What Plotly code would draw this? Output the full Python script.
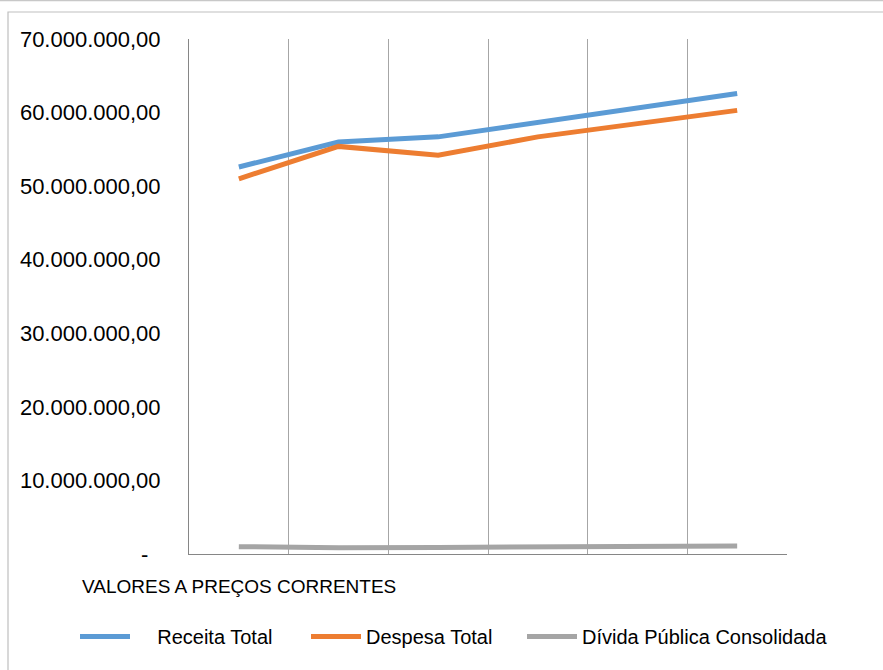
import plotly.graph_objects as go

# ---- data ----
categories = [1, 2, 3, 4, 5, 6]
receita_total = [52.6e6, 56.0e6, 56.7e6, 58.7e6, 60.7e6, 62.6e6]
despesa_total = [51.0e6, 55.4e6, 54.2e6, 56.7e6, 58.5e6, 60.3e6]
divida_publica = [1.0e6, 0.85e6, 0.9e6, 0.95e6, 1.0e6, 1.1e6]
y_tick_vals = [0, 10e6, 20e6, 30e6, 40e6, 50e6, 60e6, 70e6]
y_tick_text = ["-\u00a0\u00a0", "10.000.000,00", "20.000.000,00", "30.000.000,00",
               "40.000.000,00", "50.000.000,00", "60.000.000,00", "70.000.000,00"]
series_names = ["\u00a0\u00a0\u00a0\u00a0Receita Total", "Despesa Total", "Dívida Pública Consolidada"]
series_colors = ["#5B9BD5", "#ED7D31", "#A5A5A5"]
x_title = "VALORES A PREÇOS CORRENTES"

W, H = 883, 670
L, R, T, B = 189, 787, 39, 554

def px_x(p):
    return (p - L) / (R - L)

def px_y(p):
    return (B - p) / (B - T)

legend_ids = ["legend", "legend2", "legend3"]
legend_px = [75, 306, 522]

fig = go.Figure()
for name, vals, col, lid in zip(series_names, [receita_total, despesa_total, divida_publica],
                                series_colors, legend_ids):
    fig.add_trace(go.Scatter(x=categories, y=vals, mode="lines", name=name, legend=lid,
                             line=dict(color=col, width=5), hoverinfo="skip"))

grid_vals = [c - 0.5 for c in categories] + [categories[-1] + 0.5]

legend_common = dict(orientation="h", y=px_y(617), xanchor="left", yanchor="top",
                     font=dict(size=20, color="#000000"), itemwidth=50,
                     bgcolor="rgba(0,0,0,0)")

fig.update_layout(
    width=W, height=H,
    margin=dict(l=L, r=W - R, t=T, b=H - B, pad=0, autoexpand=False),
    paper_bgcolor="white", plot_bgcolor="white",
    font=dict(family="Liberation Sans, Arial, sans-serif", size=20, color="#000000"),
    showlegend=True,
    legend=dict(x=px_x(legend_px[0]), **legend_common),
    legend2=dict(x=px_x(legend_px[1]), **legend_common),
    legend3=dict(x=px_x(legend_px[2]), **legend_common),
    xaxis=dict(range=[categories[0] - 0.5, categories[-1] + 0.5],
               tickvals=grid_vals, showticklabels=False, ticks="",
               showgrid=True, gridcolor="#A6A6A6", gridwidth=1,
               showline=True, linecolor="#868686", linewidth=1, zeroline=False,
               mirror=False),
    yaxis=dict(range=[0, 70e6], tickvals=y_tick_vals, ticktext=y_tick_text,
               showgrid=False, zeroline=False, showline=True, linecolor="#868686",
               linewidth=1, ticks="outside", ticklen=0, ticklabelstandoff=23,
               tickfont=dict(size=22, color="#000000")),
    annotations=[
        dict(text=x_title, xref="paper", yref="paper", x=px_x(80), y=px_y(586),
             xanchor="left", yanchor="middle", showarrow=False,
             font=dict(size=19, color="#000000")),
    ],
    shapes=[
        dict(type="rect", xref="paper", yref="paper",
             x0=px_x(8), x1=px_x(900), y0=px_y(700), y1=px_y(12),
             line=dict(color="#BFBFBF", width=1.2), fillcolor="rgba(0,0,0,0)", layer="below"),
        dict(type="line", xref="paper", yref="paper",
             x0=px_x(0), x1=px_x(883), y0=px_y(0.5), y1=px_y(0.5),
             line=dict(color="#C8C8C8", width=1.5)),
    ],
)

fig.write_html("out.html", config={"displayModeBar": False},
               post_script="document.body.style.margin='0';")
